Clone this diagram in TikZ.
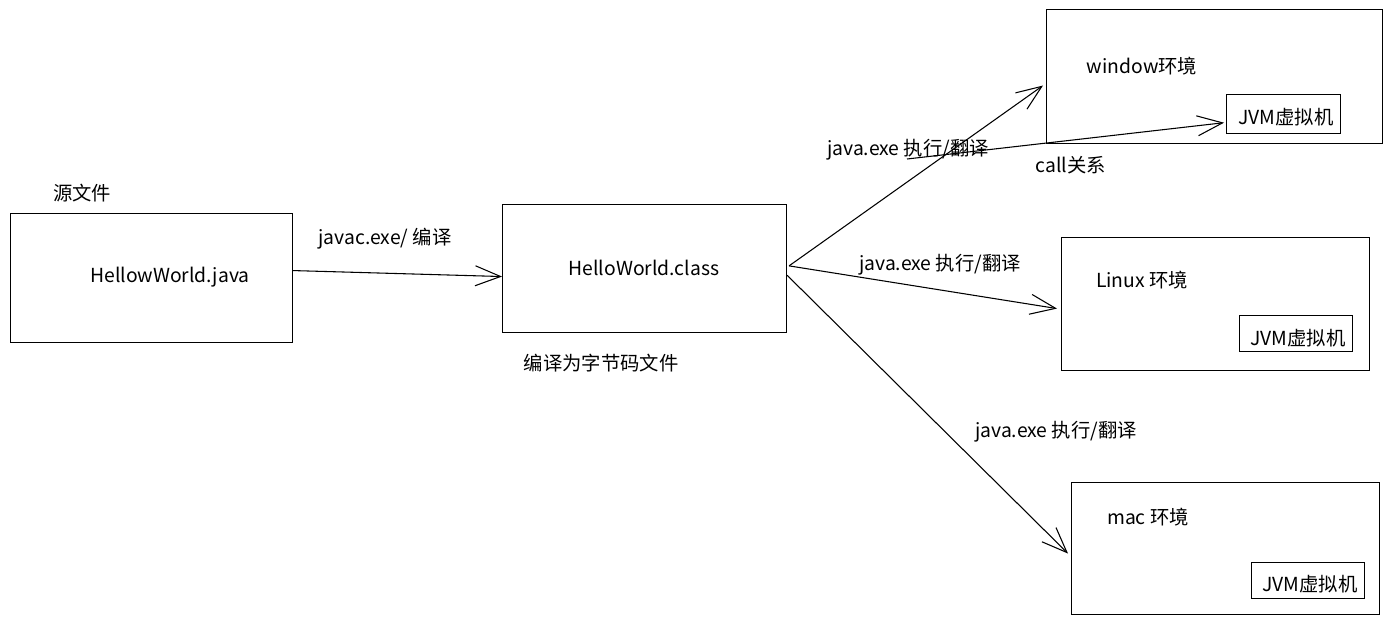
\documentclass[tikz,border=0pt]{standalone}
\usepackage{fontspec}
\setmainfont{Noto Sans CJK SC}
\usetikzlibrary{arrows.meta,calc}
\begin{document}
\begin{tikzpicture}[x=0.75pt,y=-0.75pt,
  box/.style={draw,line width=0.8pt,anchor=north west,inner sep=0pt},
  lbl/.style={font=\fontsize{14.5}{16}\selectfont,inner sep=0pt},
  arr/.style={line width=0.8pt,-{Straight Barb[length=19pt,width=15pt,line width=0.8pt]}}]
\useasboundingbox (0,0) rectangle (1388,625);
\fill[white] (0,0) rectangle (1388,625);
% boxes
\node[box,minimum width=211.5pt,minimum height=96.75pt] (src) at (10,213) {};
\node[box,minimum width=213pt,minimum height=96pt] (cls) at (502,204) {};
\node[box,minimum width=252pt,minimum height=100.5pt] (win) at (1046,9) {};
\node[box,minimum width=85.5pt,minimum height=29.25pt] (jvmw) at (1226,94) {};
\node[box,minimum width=231pt,minimum height=99.75pt] (lin) at (1061,237) {};
\node[box,minimum width=84.75pt,minimum height=27pt] (jvml) at (1239,315) {};
\node[box,minimum width=231pt,minimum height=99pt] (mac) at (1071,482) {};
\node[box,minimum width=84.75pt,minimum height=27pt] (jvmm) at (1251,562) {};
% texts
\node[lbl] (tsrc) at (170,277) {HellowWorld.java};
\node[lbl] (tsrclab) at (82,193) {源文件};
\node[lbl] (tcls) at (644,268) {HelloWorld.class};
\node[lbl] (tclslab) at (601,363) {编译为字节码文件};
\node[lbl] (twin) at (1142,66) {window环境};
\node[lbl] (tjw) at (1286,117) {JVM虚拟机};
\node[lbl] (tlin) at (1142,280) {Linux 环境};
\node[lbl] (tjl) at (1298,338) {JVM虚拟机};
\node[lbl] (tmac) at (1148,517) {mac 环境};
\node[lbl] (tjm) at (1310,584) {JVM虚拟机};
% arrows
\coordinate (cstart) at (907,159);
\draw[arr] ([yshift=5.6pt]src.east) -- ([yshift=-6pt]cls.west);
\draw[arr] ([xshift=1.5pt,yshift=2pt]cls.east) -- ([xshift=-2.25pt,yshift=-6.75pt]win.west);
\draw[arr] ([xshift=1.5pt,yshift=2pt]cls.east) -- ([xshift=-3pt,yshift=-3.4pt]lin.west);
\draw[arr] ([yshift=-5pt]cls.east) -- ([xshift=-2.25pt,yshift=-3.75pt]mac.west);
\draw[arr] (cstart) -- ([xshift=-1.5pt,yshift=-6.5pt]jvmw.west);
% arrow labels
\node[lbl] (l1) at (385,239) {javac.exe/ 编译};
\node[lbl] (l2) at (908,150) {java.exe 执行/翻译};
\node[lbl] (l3) at (940,265) {java.exe 执行/翻译};
\node[lbl] (l4) at (1056,432) {java.exe 执行/翻译};
\node[lbl] (l5) at (1071,165) {call关系};
\end{tikzpicture}
\end{document}
